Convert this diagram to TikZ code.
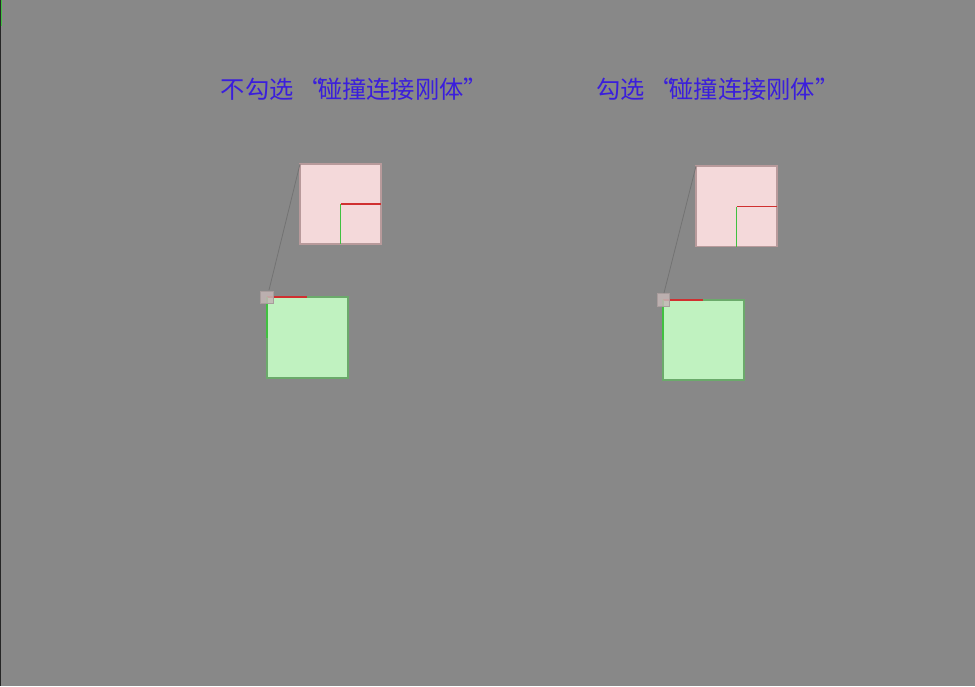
\documentclass[tikz,border=0pt]{standalone}
\usepackage{fontspec}
\newfontfamily\cjk{Noto Sans CJK SC}
\newcommand\myLQ{\kern0.18em“\kern-0.18em}
\definecolor{bg}{HTML}{888888}
\definecolor{pinkfill}{HTML}{F4D9DA}
\definecolor{pinkedge}{HTML}{B89A9B}
\definecolor{greenfill}{HTML}{C0F2C0}
\definecolor{greenedge}{HTML}{6BAA6B}
\definecolor{txtblue}{HTML}{3A1EDC}
\definecolor{redline}{HTML}{D03030}
\definecolor{greenline}{HTML}{40C040}
\definecolor{smallfill}{HTML}{C4B6B6}
\definecolor{smalledge}{HTML}{A89C9C}
\tikzset{
  pinkbox/.style={draw=pinkedge, fill=pinkfill, line width=1.2pt},
  greenbox/.style={draw=greenedge, fill=greenfill, line width=1.2pt},
  smallbox/.style={draw=smalledge, fill=smallfill, line width=1pt, fill opacity=0.85},
  title/.style={text=txtblue, font=\cjk\fontsize{24.3}{28}\selectfont, inner sep=0pt},
  joint/.style={draw=black!55, line width=0.8pt},
  redaxis/.style={draw=redline, line width=1.2pt},
  greenaxis/.style={draw=greenline, line width=1.2pt}
}
\begin{document}
\begin{tikzpicture}[x=1pt,y=-1pt]
\fill[bg] (0,0) rectangle (975,686);
\useasboundingbox (0,0) rectangle (975,686);
\fill[black!85] (0,0) rectangle (1.2,686);
\fill[greenline] (1.2,0) rectangle (2.2,26);
% titles
\node[title] (t1) at (354.5,89) {不勾选\myLQ 碰撞连接刚体”};
\node[title] (t2) at (718,89) {勾选\myLQ 碰撞连接刚体”};
% left panel
\coordinate (lpTL) at (300,164);
\path[pinkbox] (300,164) rectangle (381,244);
\coordinate (lpC) at (340.5,204);
\draw[redaxis] (lpC) -- (381,204);
\draw[greenaxis] (lpC) -- (340.5,244);
\path[greenbox] (267,297) rectangle (348,378);
\draw[redaxis] (267,297) -- (307,297);
\draw[greenaxis] (267,297) -- (267,338);
\path[smallbox] (260.5,291) rectangle (273.5,303.5);
\coordinate (lsq) at (269,290);
\draw[joint] (lpTL) -- (lsq);
% right panel
\coordinate (rpTL) at (696,166);
\path[pinkbox] (696,166) rectangle (777,246.5);
\coordinate (rpC) at (736.5,206.5);
\draw[redaxis] (rpC) -- (777,206.5);
\draw[greenaxis] (rpC) -- (736.5,246.5);
\path[greenbox] (663,300) rectangle (744,380);
\draw[redaxis] (663,300) -- (703,300);
\draw[greenaxis] (663,300) -- (663,340);
\path[smallbox] (657,293.5) rectangle (669.5,306);
\coordinate (rsq) at (664,293);
\draw[joint] (rpTL) -- (rsq);
\end{tikzpicture}
\end{document}
